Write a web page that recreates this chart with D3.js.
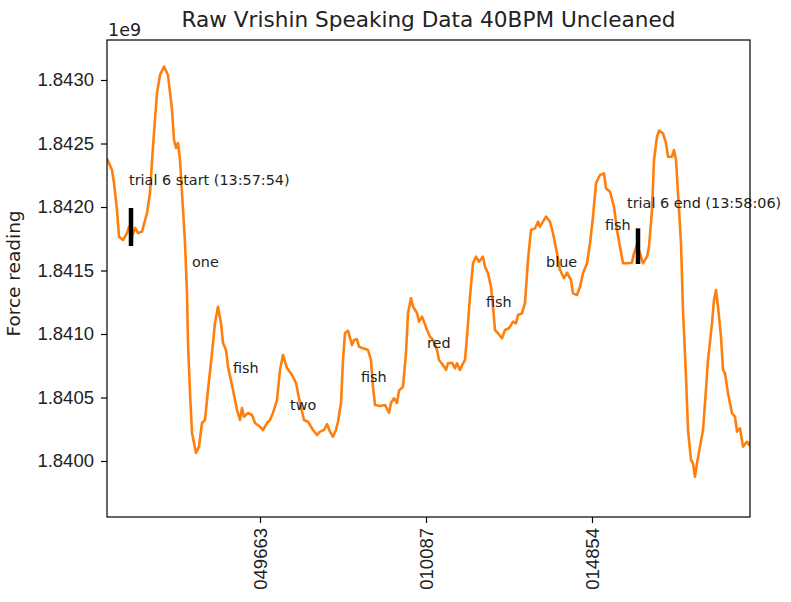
<!DOCTYPE html>
<html>
<head>
<meta charset="utf-8">
<script src="https://cdn.jsdelivr.net/npm/d3@7"></script>
<style>
  body { margin: 0; background: #fff; }
  svg { display: block; font-family: "DejaVu Sans", sans-serif; }
</style>
</head>
<body>
<div id="chart"></div>
<script>

// sample index along the trial recording
var sampleIdx = [0, 5, 7, 10, 12, 16, 20, 22, 25, 28, 31, 35, 40, 43, 46, 50, 53, 57, 61, 65,
  67, 69, 71, 73, 75, 78, 80, 81, 83, 85, 89, 92, 95, 98, 101, 105, 108, 111, 114, 116,
  119, 121, 126, 130, 133, 135, 137, 141, 145, 148, 153, 156, 160, 163, 166, 170, 173, 176, 180, 185,
  189, 193, 197, 201, 206, 210, 213, 217, 220, 223, 226, 229, 231, 234, 236, 238, 241, 245, 247, 250,
  252, 256, 261, 264, 266, 268, 273, 278, 282, 284, 287, 290, 292, 296, 299, 301, 304, 306, 310, 312,
  315, 317, 320, 323, 326, 330, 332, 336, 339, 341, 345, 348, 350, 353, 356, 358, 360, 363, 366, 369,
  372, 376, 378, 381, 384, 386, 388, 391, 395, 398, 402, 406, 409, 411, 415, 418, 421, 424, 428, 431,
  433, 439, 443, 446, 450, 453, 457, 460, 464, 466, 470, 473, 476, 480, 483, 486, 489, 493, 497, 499,
  503, 507, 510, 513, 516, 520, 525, 527, 530, 533, 536, 540, 542, 545, 547, 550, 552, 556, 559, 561,
  565, 567, 569, 571, 574, 576, 579, 581, 584, 586, 588, 590, 593, 596, 598, 601, 605, 607, 609, 611,
  614, 616, 618, 621, 625, 628, 630, 633, 636, 640, 642, 643];

// raw force reading (x 1e9)
var force = [1.842380, 1.842291, 1.842189, 1.841976, 1.841766, 1.841740, 1.841795, 1.841845, 1.841766, 1.841835,
  1.841795, 1.841806, 1.841953, 1.842110, 1.842475, 1.842898, 1.843039, 1.843105, 1.843039, 1.842764,
  1.842528, 1.842465, 1.842504, 1.842370, 1.842110, 1.841717, 1.841323, 1.840929, 1.840535, 1.840220,
  1.840063, 1.840113, 1.840299, 1.840323, 1.840559, 1.840850, 1.841087, 1.841215, 1.841087, 1.840929,
  1.840874, 1.840743, 1.840559, 1.840402, 1.840323, 1.840417, 1.840349, 1.840378, 1.840362, 1.840299,
  1.840270, 1.840244, 1.840299, 1.840323, 1.840378, 1.840480, 1.840717, 1.840835, 1.840732, 1.840677,
  1.840614, 1.840457, 1.840323, 1.840309, 1.840244, 1.840205, 1.840231, 1.840244, 1.840291, 1.840231,
  1.840191, 1.840244, 1.840309, 1.840457, 1.840795, 1.841008, 1.841026, 1.840913, 1.840953, 1.840958,
  1.840900, 1.840887, 1.840874, 1.840795, 1.840585, 1.840441, 1.840433, 1.840441, 1.840380, 1.840457,
  1.840494, 1.840457, 1.840554, 1.840585, 1.840850, 1.841165, 1.841281, 1.841215, 1.841165, 1.841097,
  1.841136, 1.841097, 1.841031, 1.840979, 1.840953, 1.840874, 1.840795, 1.840756, 1.840717, 1.840769,
  1.840774, 1.840730, 1.840769, 1.840717, 1.840769, 1.840795, 1.840979, 1.841294, 1.841557, 1.841609,
  1.841569, 1.841609, 1.841530, 1.841478, 1.841372, 1.841215, 1.841031, 1.841006, 1.840966, 1.841031,
  1.841045, 1.841097, 1.841084, 1.841150, 1.841163, 1.841246, 1.841583, 1.841819, 1.841832, 1.841884,
  1.841845, 1.841924, 1.841884, 1.841793, 1.841635, 1.841504, 1.841439, 1.841483, 1.841425, 1.841320,
  1.841307, 1.841372, 1.841478, 1.841557, 1.841714, 1.841924, 1.842187, 1.842252, 1.842265, 1.842147,
  1.842120, 1.842002, 1.841819, 1.841687, 1.841557, 1.841557, 1.841561, 1.841635, 1.841701, 1.841635,
  1.841557, 1.841609, 1.841687, 1.841976, 1.842370, 1.842554, 1.842601, 1.842580, 1.842502, 1.842396,
  1.842396, 1.842449, 1.842370, 1.842108, 1.841714, 1.841189, 1.840664, 1.840244, 1.840008, 1.839982,
  1.839876, 1.839982, 1.840113, 1.840244, 1.840454, 1.840795, 1.841084, 1.841268, 1.841346, 1.841215,
  1.840979, 1.840717, 1.840691, 1.840533, 1.840376, 1.840349, 1.840231, 1.840257, 1.840113, 1.840152,
  1.840126, 1.840150];

var yTicks = [1.8400, 1.8405, 1.8410, 1.8415, 1.8420, 1.8425, 1.8430];
var xTickIdx = [153, 319, 485];
// only the tail of each timestamp label is visible in the figure
var xTickLabels = ["049663", "010087", "014854"];

// spoken words
var wordText = ["one", "fish", "two", "fish", "red", "fish", "blue", "fish"];
var wordIdx = [85, 126, 183, 254, 320, 379, 439, 498];
var wordForce = [1.841530, 1.840691, 1.840402, 1.840624, 1.840887, 1.841215, 1.841530, 1.841819];

// trial start / end markers
var markerText = ["trial 6 start (13:57:54)", "trial 6 end (13:58:06)"];
var markerIdx = [24, 531];
var markerLow = [1.841693, 1.841551];
var markerHigh = [1.841992, 1.841832];
var markerTextIdx = [22, 520];
var markerTextForce = [1.842173, 1.841992];

var margin = {top: 40, right: 41, bottom: 85, left: 107};
var totalW = 791, totalH = 602;
var width = totalW - margin.left - margin.right;
var height = totalH - margin.top - margin.bottom;

var svg = d3.select("#chart").append("svg")
    .attr("width", totalW)
    .attr("height", totalH)
    .append("g")
    .attr("transform", "translate(" + margin.left + "," + margin.top + ")");

var x = d3.scaleLinear()
    .domain([0, 643])
    .range([0, width]);

var y = d3.scaleLinear()
    .domain([1.839559, 1.843315])
    .range([height, 0]);

var data = sampleIdx.map(function(d, i){
    return {i: d, v: force[i]};
});

var line = d3.line()
    .x(function(d){ return x(d.i); })
    .y(function(d){ return y(d.v); });

svg.append("defs").append("clipPath")
    .attr("id", "plotclip")
    .append("rect")
    .attr("width", width)
    .attr("height", height);

svg.append("path")
    .datum(data)
    .attr("clip-path", "url(#plotclip)")
    .attr("fill", "none")
    .attr("stroke", "#ff7f0e")
    .attr("stroke-width", 2.6)
    .attr("stroke-linejoin", "round")
    .attr("d", line);

// black trial markers
svg.selectAll(".marker")
    .data(markerIdx)
    .enter().append("line")
    .attr("class", "marker")
    .attr("x1", function(d){ return x(d); })
    .attr("x2", function(d){ return x(d); })
    .attr("y1", function(d, i){ return y(markerLow[i]); })
    .attr("y2", function(d, i){ return y(markerHigh[i]); })
    .attr("stroke", "#000")
    .attr("stroke-width", 4.5);

svg.selectAll(".markerlabel")
    .data(markerText)
    .enter().append("text")
    .attr("class", "markerlabel")
    .attr("x", function(d, i){ return x(markerTextIdx[i]); })
    .attr("y", function(d, i){ return y(markerTextForce[i]); })
    .attr("fill", "#222")
    .style("font-size", "14.4px")
    .text(function(d){ return d; });

svg.selectAll(".word")
    .data(wordText)
    .enter().append("text")
    .attr("class", "word")
    .attr("x", function(d, i){ return x(wordIdx[i]); })
    .attr("y", function(d, i){ return y(wordForce[i]); })
    .attr("fill", "#222")
    .style("font-size", "14.4px")
    .text(function(d){ return d; });

var xAxis = d3.axisBottom(x)
    .tickValues(xTickIdx)
    .tickFormat(function(d, i){ return xTickLabels[i]; })
    .tickSize(6)
    .tickPadding(6);

var yAxis = d3.axisLeft(y)
    .tickValues(yTicks)
    .tickFormat(d3.format(".4f"))
    .tickSize(6)
    .tickPadding(7);

var gx = svg.append("g")
    .attr("transform", "translate(0," + height + ")")
    .style("font-size", "18.5px")
    .call(xAxis);
gx.select(".domain").remove();
gx.selectAll(".tick line").attr("stroke", "#000").attr("stroke-width", 1.2);
gx.selectAll(".tick text")
    .attr("fill", "#222")
    .attr("text-anchor", "end")
    .attr("transform", "rotate(-90)")
    .attr("x", -11)
    .attr("y", 0)
    .attr("dy", "0.35em");

var gy = svg.append("g")
    .style("font-size", "18.5px")
    .call(yAxis);
gy.select(".domain").remove();
gy.selectAll(".tick line").attr("stroke", "#000").attr("stroke-width", 1.2);
gy.selectAll(".tick text").attr("fill", "#222");

// axes frame
svg.append("rect")
    .attr("width", width)
    .attr("height", height)
    .attr("fill", "none")
    .attr("stroke", "#000")
    .attr("stroke-width", 1.2);

svg.append("text")
    .attr("x", width / 2)
    .attr("y", -13)
    .attr("text-anchor", "middle")
    .attr("fill", "#222")
    .style("font-size", "21.6px")
    .text("Raw Vrishin Speaking Data 40BPM Uncleaned");

svg.append("text")
    .attr("x", 1)
    .attr("y", -4)
    .attr("fill", "#222")
    .style("font-size", "17.5px")
    .text("1e9");

svg.append("text")
    .attr("transform", "translate(" + (-87) + "," + (height / 2 - 5) + ") rotate(-90)")
    .attr("text-anchor", "middle")
    .attr("fill", "#222")
    .style("font-size", "18.5px")
    .text("Force reading");

</script>
</body>
</html>
